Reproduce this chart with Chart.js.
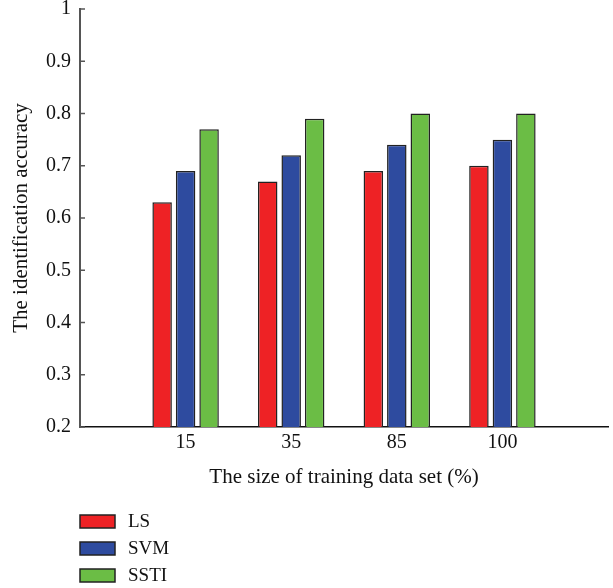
<!DOCTYPE html>
<html>
<head>
<meta charset="utf-8">
<script src="https://cdn.jsdelivr.net/npm/chart.js@4"></script>
<style>
html,body{margin:0;padding:0;background:#fff;}
#wrap{width:613px;height:588px;}
</style>
</head>
<body>
<div id="wrap"><canvas id="c" width="613" height="588"></canvas></div>
<script>
const categories = ['', '15', '35', '85', '100', ''];
const seriesNames = ['LS', 'SVM', 'SSTI'];
const lsValues = [null, 0.63, 0.67, 0.69, 0.70, null];
const svmValues = [null, 0.69, 0.72, 0.74, 0.75, null];
const sstiValues = [null, 0.77, 0.79, 0.80, 0.80, null];
const yTicks = [0.2, 0.3, 0.4, 0.5, 0.6, 0.7, 0.8, 0.9, 1];
const colors = ['#ee2225', '#2e4b9f', '#6bbd45'];

const FONT = 'Liberation Serif';

const innerTicks = {
  id: 'innerTicks',
  afterDraw(chart) {
    const ctx = chart.ctx;
    const y = chart.scales.y;
    ctx.save();
    ctx.strokeStyle = '#555';
    ctx.lineWidth = 1.5;
    yTicks.forEach(v => {
      const py = y.getPixelForValue(v);
      ctx.beginPath();
      ctx.moveTo(y.right, py);
      ctx.lineTo(y.right + 5, py);
      ctx.stroke();
    });
    ctx.restore();
  }
};

const vLegend = {
  id: 'vLegend',
  afterDraw(chart) {
    const ctx = chart.ctx;
    ctx.save();
    chart.data.datasets.forEach((ds, i) => {
      const top = 515 + i * 27;
      ctx.fillStyle = ds.backgroundColor;
      ctx.fillRect(80, top, 35, 13);
      ctx.strokeStyle = '#222';
      ctx.lineWidth = 1.5;
      ctx.strokeRect(80, top, 35, 13);
      ctx.fillStyle = '#111';
      ctx.font = '19px "' + FONT + '"';
      ctx.textBaseline = 'middle';
      ctx.textAlign = 'left';
      ctx.fillText(ds.label, 128, top + 7);
    });
    ctx.restore();
  }
};

const datasets = [lsValues, svmValues, sstiValues].map((vals, i) => ({
  label: seriesNames[i],
  data: vals,
  backgroundColor: colors[i],
  borderColor: '#222',
  borderWidth: 1.5,
  categoryPercentage: 0.667,
  barPercentage: 0.83
}));

new Chart(document.getElementById('c'), {
  type: 'bar',
  data: { labels: categories, datasets },
  options: {
    responsive: false,
    animation: false,
    devicePixelRatio: 1,
    layout: { padding: { left: 0, right: 5, top: 0, bottom: 91 } },
    plugins: { legend: { display: false }, tooltip: { enabled: false } },
    scales: {
      x: {
        type: 'category',
        offset: false,
        grid: { display: false, drawTicks: false },
        border: { color: '#111', width: 1.5 },
        ticks: { color: '#111', font: { family: FONT, size: 20 }, padding: 4, autoSkip: false, maxRotation: 0 },
        title: { display: true, text: 'The size of training data set (%)', color: '#111', font: { family: FONT, size: 21 }, padding: { top: 0, bottom: 7 } },
        afterFit(s) { s.height = 70; }
      },
      y: {
        min: 0.2,
        max: 1,
        grid: { display: false, drawTicks: false },
        border: { color: '#555', width: 2 },
        afterBuildTicks(s) { s.ticks = yTicks.map(v => ({ value: v })); },
        ticks: {
          color: '#111',
          font: { family: FONT, size: 20 },
          padding: 9,
          callback: v => String(Number(v.toFixed(1)))
        },
        title: { display: true, text: 'The identification accuracy', color: '#111', font: { family: FONT, size: 21 }, padding: { top: 9, bottom: 0 } },
        afterFit(s) { s.width = 80; s.paddingTop = 9; }
      }
    }
  },
  plugins: [innerTicks, vLegend]
});
</script>
</body>
</html>
